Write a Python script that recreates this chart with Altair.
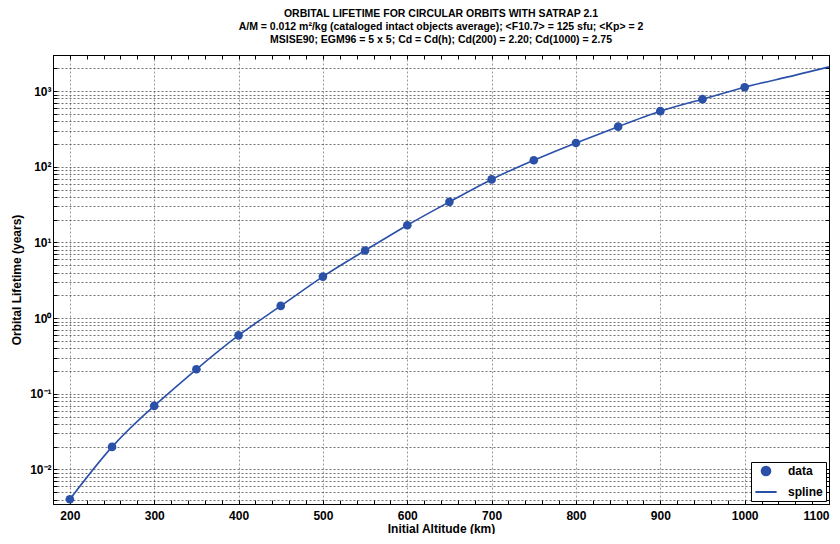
import altair as alt
import pandas as pd

# ---- data ----
altitude = [200, 250, 300, 350, 400, 450, 500, 550, 600, 650, 700, 750, 800, 850, 900, 950, 1000]
lifetime = [0.00404, 0.0199, 0.0693, 0.211, 0.593, 1.45, 3.54, 7.82, 16.9, 34.4, 68.1, 122,
            206, 339, 543, 782, 1126]
spline_alt = altitude + [1050, 1100]
spline_life = lifetime + [1530, 2095]

# ---- axis tick values ----
x_ticks = list(range(180, 1101, 20))
y_ticks = [m * 10.0 ** k for k in range(-3, 4) for m in range(1, 10)]
y_ticks = [v for v in y_ticks if 0.0035 <= v <= 3000]

BLUE = "#2a50a8"
FONT = "Liberation Sans"

df_pts = pd.DataFrame({"alt": altitude, "life": lifetime, "series": "data"})
df_spl = pd.DataFrame({"alt": spline_alt, "life": spline_life, "series": "spline"})

xscale = alt.Scale(domain=[180, 1100], nice=False, zero=False)
yscale = alt.Scale(type="log", domain=[0.0035, 3000], nice=False)

pow_expr = "round(log(datum.value)/LN10)"
label_expr = (
    f"abs(log(datum.value)/LN10 - {pow_expr}) > 0.001 ? '' : "
    f"({pow_expr} == -2 ? '10⁻²' : {pow_expr} == -1 ? '10⁻¹' : {pow_expr} == 0 ? '10⁰' : "
    f"{pow_expr} == 1 ? '10¹' : {pow_expr} == 2 ? '10²' : {pow_expr} == 3 ? '10³' : '')"
)

line = alt.Chart(df_spl).mark_line(color=BLUE, strokeWidth=1.6, interpolate="natural", clip=True).encode(
    x=alt.X("alt:Q", scale=xscale, axis=alt.Axis(
        orient="bottom", values=x_ticks, title="Initial Altitude (km)", format="d",
        labelExpr="datum.value % 100 === 0 ? datum.label : ''", labelOverlap=False,
        grid=True, gridColor="#999999", gridDash=[2, 2], gridWidth=1,
        gridOpacity={"condition": {"test": "datum.value % 100 === 0", "value": 1}, "value": 0},
        tickSize={"expr": "-4"}, tickColor="#000000", domainColor="#000000",
        labelFont=FONT, labelFontSize=12, labelFontWeight="bold", labelColor="#000000",
        labelPadding=10, titleFont=FONT, titleFontSize=12, titleFontWeight="bold",
        titleColor="#000000", titlePadding=2)),
    y=alt.Y("life:Q", scale=yscale, axis=alt.Axis(
        orient="left", values=y_ticks, title="Orbital Lifetime (years)",
        labelExpr=label_expr, labelOverlap=False,
        grid=True, gridColor="#333333", gridDash=[2, 2], gridWidth=0.7,
        tickSize={"expr": "-4"}, tickColor="#000000", domainColor="#000000",
        labelFont=FONT, labelFontSize=12, labelFontWeight="bold", labelColor="#000000",
        labelPadding=6, titleFont=FONT, titleFontSize=12, titleFontWeight="bold",
        titleColor="#000000", titlePadding=6)),
)

leg = alt.Legend(title=None, orient="bottom-right", offset=3, fillColor="white",
                 strokeColor="#000000", padding=3, labelFont=FONT, labelFontSize=12,
                 labelFontWeight="bold", labelColor="#000000", symbolStrokeColor=BLUE,
                 symbolStrokeWidth=2, rowPadding=0, labelOffset=10)

pts = alt.Chart(df_pts).mark_point(filled=True, opacity=1, clip=True).encode(
    x=alt.X("alt:Q", scale=xscale, axis=alt.Axis(
        orient="top", values=x_ticks, labels=False, grid=False, title="",
        tickSize={"expr": "-4"}, tickColor="#000000", domainColor="#000000")),
    y=alt.Y("life:Q", scale=yscale, axis=alt.Axis(
        orient="right", values=y_ticks, labels=False, grid=False, title="",
        tickSize={"expr": "-4"}, tickColor="#000000", domainColor="#000000")),
    color=alt.Color("series:N", scale=alt.Scale(domain=["data", "spline"], range=[BLUE, BLUE]), legend=leg),
    shape=alt.Shape("series:N", scale=alt.Scale(domain=["data", "spline"], range=["circle", "stroke"]), legend=leg),
    size=alt.Size("series:N", scale=alt.Scale(domain=["data", "spline"], range=[75, 450]), legend=leg),
)

title = alt.Title(
    text=["ORBITAL LIFETIME FOR CIRCULAR ORBITS WITH SATRAP 2.1",
          "A/M = 0.012 m²/kg (cataloged intact objects average); <F10.7> = 125 sfu; <Kp> = 2",
          "MSISE90; EGM96 = 5 x 5; Cd = Cd(h); Cd(200) = 2.20; Cd(1000) = 2.75"],
    font=FONT, fontSize=10.5, fontWeight="bold", color="#000000", lineHeight=13,
    anchor="middle", offset=4,
)

chart = alt.layer(line, pts).resolve_scale(x="independent", y="independent").properties(
    width=822, height=526, title=title,
    autosize=alt.AutoSizeParams(type="fit", contains="padding"),
    padding={"left": 2, "top": 0, "right": 0, "bottom": 0},
).configure_view(stroke="#000000", strokeWidth=1).configure(background="white")

chart.save("out.html", embed_options={"renderer": "svg", "actions": False})
